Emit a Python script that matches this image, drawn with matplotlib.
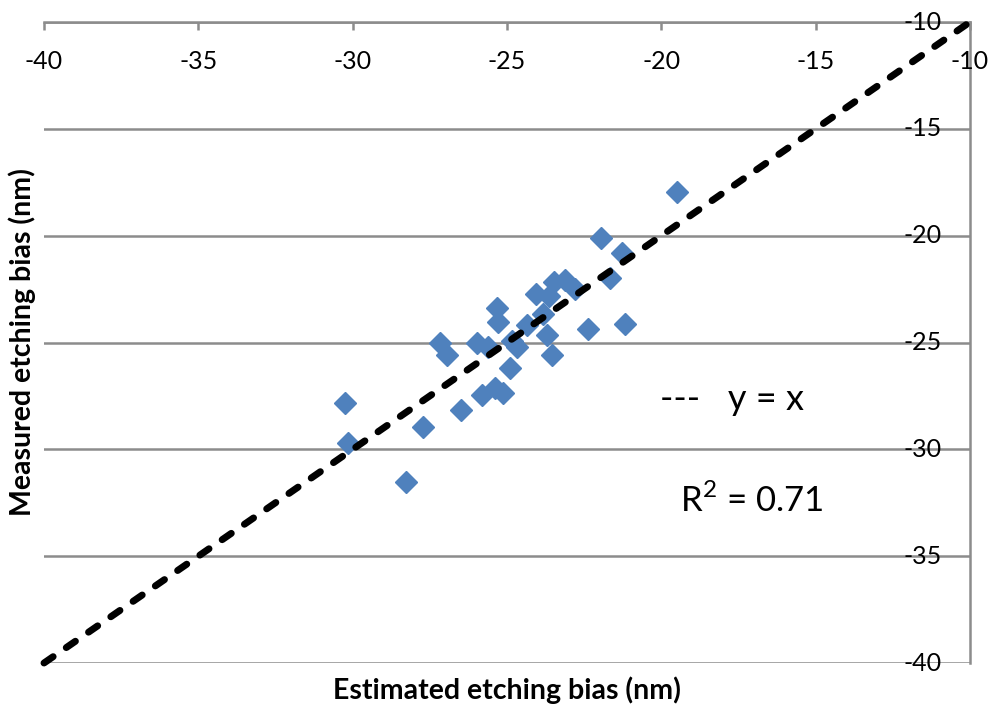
import matplotlib
matplotlib.use('Agg')
import matplotlib.pyplot as plt

# estimated vs measured etching bias (nm)
est = [-21.96, -21.28, -21.66, -21.18, -22.37, -23.12, -23.48, -22.80, -24.06,
       -23.64, -23.82, -25.32, -25.28, -24.36, -23.71, -23.55, -24.84, -24.69,
       -27.17, -26.95, -25.98, -25.63, -24.90, -25.81, -25.39, -25.12, -26.49,
       -27.71, -30.25, -30.14, -28.27, -19.49]
meas = [-20.11, -20.81, -21.98, -24.13, -24.37, -22.07, -22.15, -22.50, -22.73,
        -22.82, -23.67, -23.39, -24.03, -24.18, -24.65, -25.58, -24.93, -25.23,
        -25.04, -25.58, -25.01, -25.20, -26.19, -27.46, -27.14, -27.38, -28.16,
        -28.95, -27.83, -29.70, -31.53, -17.96]

ticks = [-40, -35, -30, -25, -20, -15, -10]
tick_labels = ['-40', '-35', '-30', '-25', '-20', '-15', '-10']

plt.rcParams['font.family'] = ['Lato', 'DejaVu Sans']
plt.rcParams['mathtext.fontset'] = 'custom'
plt.rcParams['mathtext.rm'] = 'Lato'

grey = '#8C8C8C'
blue = '#4F81BD'

fig = plt.figure(figsize=(9.96, 7.09), dpi=100)
ax = fig.add_axes([44/996, 46/709, 926/996, 641/709])
ax.set_xlim(ticks[0], ticks[-1])
ax.set_ylim(ticks[0], ticks[-1])

# axes sit at top and right (Excel crosses at max)
for s in ['left', 'bottom']:
    ax.spines[s].set_visible(False)
for s in ['top', 'right']:
    ax.spines[s].set_color(grey)
    ax.spines[s].set_linewidth(1.8)

ax.set_xticks(ticks)
ax.set_yticks(ticks)
ax.tick_params(axis='x', top=True, bottom=False, labelbottom=False, labeltop=False,
               direction='in', length=6, width=1.8, color=grey)
ax.tick_params(axis='y', left=False, right=False, labelleft=False, labelright=False)
ax.yaxis.grid(True, color=grey, lw=1.8)
ax.set_axisbelow(True)

# tick labels inside the plot area, like the original
for t, lab in zip(ticks, tick_labels):
    ax.text(t, -11.87, lab, ha='center', va='center', fontsize=18, clip_on=False)
    ax.text(-10.91, t, lab, ha='right', va='center', fontsize=18, clip_on=False)

ax.plot(est, meas, 'D', ms=11, color=blue, ls='none', zorder=3)
ax.plot([ticks[0], ticks[-1]], [ticks[0], ticks[-1]], color='black', lw=5,
        ls=(0, (1.6, 2.3)), dash_capstyle='round', zorder=4, clip_on=False)

ax.text(-20.04, -27.69, '---   y = x', ha='left', va='center', fontsize=26)
ax.text(-19.40, -32.37, r'R$^\mathregular{2}$ = 0.71', ha='left', va='center', fontsize=25)

fig.text(507/996, 1 - 690/709, 'Estimated etching bias (nm)', ha='center', va='center',
         fontsize=20.5, fontweight='bold')
fig.text(22/996, 1 - 342/709, 'Measured etching bias (nm)', ha='center', va='center',
         fontsize=20.5, fontweight='bold', rotation=90)

fig.savefig('out.png', dpi=100)
